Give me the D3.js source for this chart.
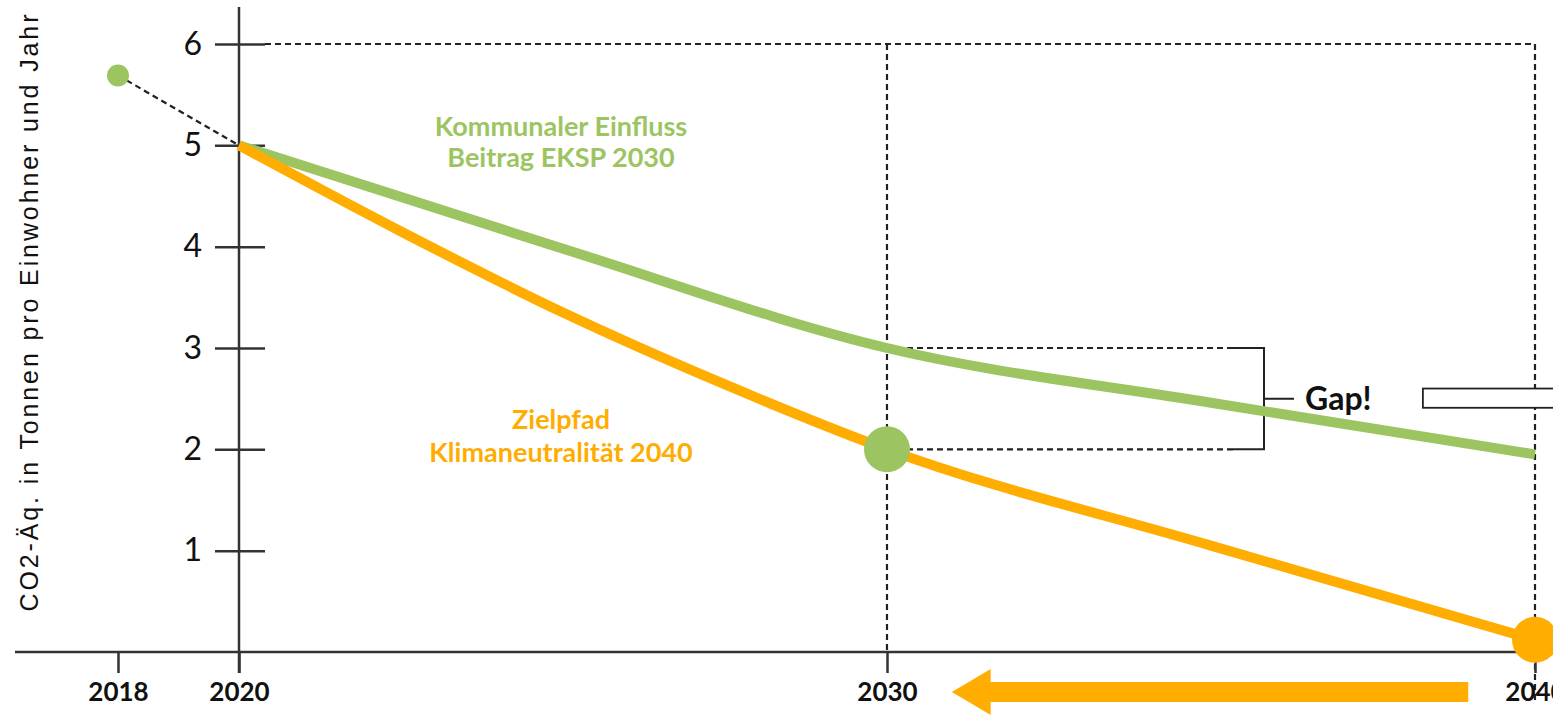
<!DOCTYPE html>
<html>
<head>
<meta charset="utf-8">
<script src="https://cdn.jsdelivr.net/npm/d3@7"></script>
<style>
  body { margin: 0; background: #fff; }
  svg { display: block; }
  .dash { stroke: #222; stroke-width: 2.2; stroke-dasharray: 6 4; fill: none; }
  .axis-line { stroke: #333; stroke-width: 2.5; }
  .lbl { font-family: "Lato", "DejaVu Sans", sans-serif; font-weight: 700; }
</style>
</head>
<body>
<div class="viz"></div>
<script>
// x axis years (2018 sits left of the 2020 origin, not to scale)
const yearTicks = [2018, 2020, 2030, 2040];
const valueTicks = [1, 2, 3, 4, 5, 6];

// Kommunaler Einfluss - Beitrag EKSP 2030
const kommunalYears = [2020, 2025, 2030, 2035, 2040];
const kommunalValues = [5.0, 3.98, 3.0, 2.46, 1.95];

// Zielpfad Klimaneutralität 2040
const zielYears = [2020, 2022.5, 2025, 2027.5, 2030, 2035, 2040];
const zielValues = [5.0, 4.15, 3.35, 2.64, 2.0, 1.05, 0.12];

// 2018 start value, dashed to 2020
const startYears = [2018, 2020];
const startValues = [5.69, 5.0];

// gap in 2030 between the two paths
const gapValues = [3.0, 2.0];

const green = "#9cc562";
const orange = "#ffad00";

var width = 1553, height = 715;

var svg = d3.select('.viz').append('svg')
    .attr('width', width)
    .attr('height', height);

var x = d3.scaleLinear()
    .domain([2018, 2020, 2040])
    .range([118, 239, 1535]);

var y = d3.scaleLinear()
    .domain([0, 6])
    .range([652, 44]);

// dashed frame: top at 6, verticals at 2030 and 2040
svg.append("line").attr("class", "dash")
    .attr("x1", x(2020) + 26).attr("x2", x(2040))
    .attr("y1", y(6)).attr("y2", y(6));
svg.append("line").attr("class", "dash")
    .attr("x1", x(2030)).attr("x2", x(2030))
    .attr("y1", y(6)).attr("y2", y(0));
svg.append("line").attr("class", "dash")
    .attr("x1", x(2040)).attr("x2", x(2040))
    .attr("y1", y(6)).attr("y2", y(0) + 50);

// gap guides
var bracketX = x(2030) + 377;
svg.selectAll(".gapline")
    .data(gapValues)
    .enter().append("line")
    .attr("class", "dash")
    .attr("x1", x(2030)).attr("x2", bracketX - 31)
    .attr("y1", d => y(d)).attr("y2", d => y(d));

svg.append("path")
    .attr("d", "M" + (bracketX - 31) + "," + y(gapValues[0]) +
        "H" + bracketX + "V" + y(gapValues[1]) + "H" + (bracketX - 31) +
        "M" + bracketX + "," + (y(gapValues[0]) + y(gapValues[1])) / 2 +
        "h30")
    .attr("fill", "none")
    .attr("stroke", "#222")
    .attr("stroke-width", 2);

svg.append("text")
    .attr("class", "lbl")
    .attr("x", bracketX + 41)
    .attr("y", (y(gapValues[0]) + y(gapValues[1])) / 2 + 11)
    .attr("font-size", 32)
    .attr("fill", "#111")
    .text("Gap!");

svg.append("rect")
    .attr("x", x(2038.27))
    .attr("y", y(2.6))
    .attr("width", 200)
    .attr("height", y(2.41) - y(2.6))
    .attr("fill", "#fff")
    .attr("stroke", "#222")
    .attr("stroke-width", 1.8);

// axes
svg.append("line").attr("class", "axis-line")
    .attr("x1", 15).attr("x2", width)
    .attr("y1", y(0)).attr("y2", y(0));
svg.append("line").attr("class", "axis-line")
    .attr("x1", x(2020)).attr("x2", x(2020))
    .attr("y1", 7).attr("y2", y(0) + 21);

var yAxis = svg.append("g")
    .attr("transform", "translate(" + x(2020) + ",0)")
    .call(d3.axisLeft(y).tickValues(valueTicks).tickFormat(d3.format("d")).tickSize(0).tickPadding(37));
yAxis.select(".domain").remove();
yAxis.selectAll(".tick line")
    .attr("x1", -24).attr("x2", 26)
    .attr("stroke", "#333").attr("stroke-width", 2.5);
yAxis.selectAll(".tick text")
    .attr("font-family", "Lato, 'DejaVu Sans', sans-serif")
    .attr("font-weight", 400)
    .attr("font-size", 32)
    .attr("fill", "#111");

var xAxis = svg.append("g")
    .attr("transform", "translate(0," + y(0) + ")")
    .call(d3.axisBottom(x).tickValues(yearTicks).tickFormat(d3.format("d")).tickSize(21).tickPadding(10));
xAxis.select(".domain").remove();
xAxis.selectAll(".tick line")
    .attr("stroke", "#333").attr("stroke-width", 2.5);
xAxis.selectAll(".tick text")
    .attr("font-family", "Lato, 'DejaVu Sans', sans-serif")
    .attr("font-weight", 700)
    .attr("font-size", 26)
    .attr("fill", "#111");

// y label
svg.append("text")
    .attr("transform", "translate(38," + 313 + ") rotate(-90)")
    .attr("text-anchor", "middle")
    .attr("font-family", "'Liberation Sans', Arial, sans-serif")
    .attr("font-size", 25)
    .attr("textLength", 597)
    .attr("lengthAdjust", "spacing")
    .attr("fill", "#111")
    .text("CO2-Äq. in Tonnen pro Einwohner und Jahr");

// 2018 -> 2020 dashed link
svg.append("path")
    .datum(startYears.map((d, i) => [d, startValues[i]]))
    .attr("class", "dash")
    .attr("d", d3.line().x(d => x(d[0])).y(d => y(d[1])));

var line = d3.line()
    .x(d => x(d[0]))
    .y(d => y(d[1]))
    .curve(d3.curveMonotoneX);

svg.append("path")
    .datum(kommunalYears.map((d, i) => [d, kommunalValues[i]]))
    .attr("d", line)
    .attr("fill", "none")
    .attr("stroke", green)
    .attr("stroke-width", 10);

svg.append("path")
    .datum(zielYears.map((d, i) => [d, zielValues[i]]))
    .attr("d", line)
    .attr("fill", "none")
    .attr("stroke", orange)
    .attr("stroke-width", 10);

// dots
svg.append("circle")
    .attr("cx", x(startYears[0])).attr("cy", y(startValues[0]))
    .attr("r", 11).attr("fill", green);
svg.append("circle")
    .attr("cx", x(2030)).attr("cy", y(zielValues[4]))
    .attr("r", 23).attr("fill", green);
svg.append("circle")
    .attr("cx", x(2040)).attr("cy", y(zielValues[zielValues.length - 1]))
    .attr("r", 23).attr("fill", orange);

// series labels
var kLabel = svg.append("text")
    .attr("class", "lbl")
    .attr("text-anchor", "middle")
    .attr("font-size", 27)
    .attr("fill", green);
kLabel.append("tspan").attr("x", 561).attr("y", 136).text("Kommunaler Einfluss");
kLabel.append("tspan").attr("x", 561).attr("y", 167).text("Beitrag EKSP 2030");

var zLabel = svg.append("text")
    .attr("class", "lbl")
    .attr("text-anchor", "middle")
    .attr("font-size", 27)
    .attr("fill", orange);
zLabel.append("tspan").attr("x", 561).attr("y", 429).text("Zielpfad");
zLabel.append("tspan").attr("x", 561).attr("y", 462).text("Klimaneutralität 2040");

// arrow pointing back from 2040 to 2030
var ay = y(0) + 40;
var tip = x(2031), base = x(2031.6), tail = x(2038.97);
svg.append("path")
    .attr("d", "M" + tail + "," + (ay - 10) + "H" + base + "V" + (ay - 23) +
        "L" + tip + "," + ay + "L" + base + "," + (ay + 23) + "V" + (ay + 10) +
        "H" + tail + "Z")
    .attr("fill", orange);
</script>
</body>
</html>
